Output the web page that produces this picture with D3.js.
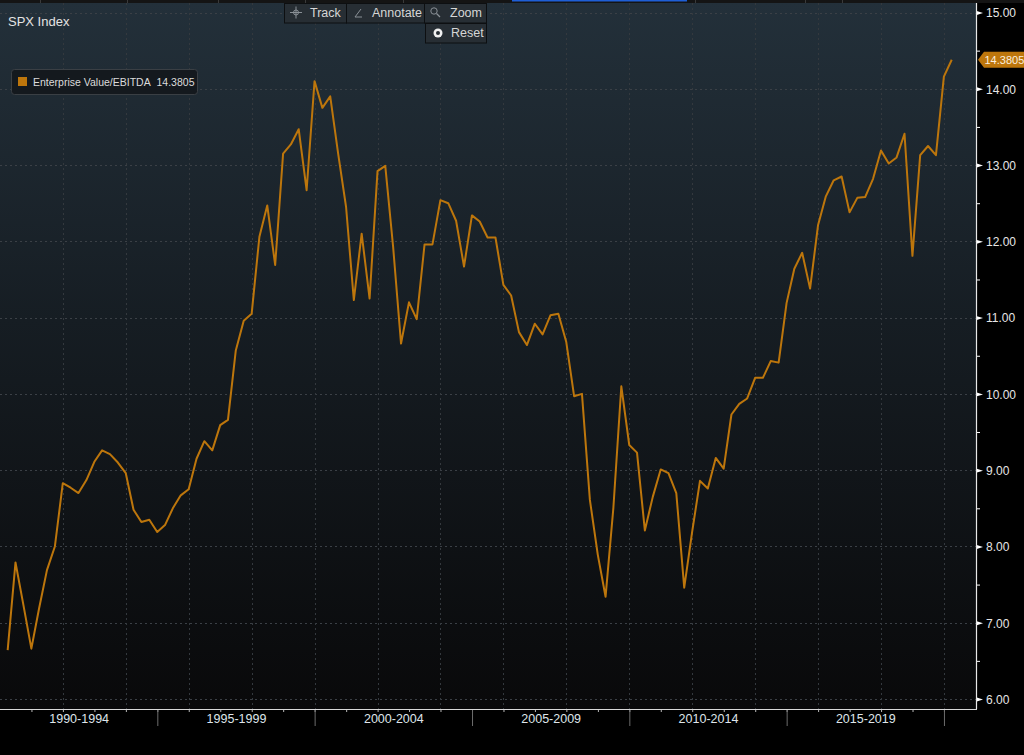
<!DOCTYPE html>
<html>
<head>
<meta charset="utf-8">
<script src="https://cdn.jsdelivr.net/npm/d3@7"></script>
<style>
  html, body { margin: 0; padding: 0; background: #000; }
  svg { display: block; }
  text { font-family: "Liberation Sans", Arial, sans-serif; }
</style>
</head>
<body>
<svg id="chart" width="1024" height="755"></svg>
<script>
// ---------------- data ----------------
const title = "SPX Index";
const seriesName = "Enterprise Value/EBITDA";
const lastValueLabel = "14.3805";
const startYear = 1990;          // first quarter: 1990 Q1, quarterly observations
const evEbitda = [
  6.64, 7.79, 7.23, 6.66, 7.19, 7.69, 8.00, 8.83, 8.77, 8.70,
  8.87, 9.11, 9.26, 9.21, 9.10, 8.96, 8.48, 8.32, 8.35, 8.19,
  8.28, 8.50, 8.67, 8.75, 9.15, 9.38, 9.26, 9.59, 9.66, 10.57,
  10.96, 11.05, 12.06, 12.47, 11.69, 13.15, 13.27, 13.47, 12.67, 14.10,
  13.75, 13.90, 13.15, 12.45, 11.23, 12.10, 11.25, 12.92, 12.99, 11.93,
  10.66, 11.20, 10.98, 11.96, 11.96, 12.54, 12.50, 12.27, 11.67, 12.34,
  12.26, 12.05, 12.05, 11.43, 11.29, 10.81, 10.64, 10.92, 10.78, 11.03,
  11.05, 10.68, 9.97, 10.00, 8.61, 7.89, 7.34, 8.51, 10.10, 9.33,
  9.23, 8.21, 8.65, 9.01, 8.96, 8.70, 7.46, 8.19, 8.86, 8.76,
  9.16, 9.02, 9.73, 9.87, 9.94, 10.21, 10.21, 10.43, 10.41, 11.19,
  11.64, 11.85, 11.38, 12.21, 12.59, 12.80, 12.85, 12.38, 12.57, 12.58,
  12.82, 13.19, 13.02, 13.10, 13.41, 11.81, 13.13, 13.25, 13.13, 14.16,
  14.3805
];
const periodLabels = ["1990-1994", "1995-1999", "2000-2004", "2005-2009", "2010-2014", "2015-2019"];
const periodStarts = [1990, 1995, 2000, 2005, 2010, 2015, 2020];
const yTicks = [6, 7, 8, 9, 10, 11, 12, 13, 14, 15];
const yMinorTicks = [6.5, 7.5, 8.5, 9.5, 10.5, 11.5, 12.5, 13.5, 14.5];
const toolbar = ["Track", "Annotate", "Zoom"];

// quarter-end dates
const dates = evEbitda.map((v, i) => new Date(startYear + Math.floor(i / 4), (i % 4) * 3 + 3, 0));
const data = evEbitda.map((v, i) => ({ date: dates[i], value: v }));

// ---------------- layout ----------------
const svg = d3.select("#chart");
const W = 1024, H = 755;
const plot = { left: 0, right: 976, top: 3, bottom: 709 };
const lineColor = "#bd760c";

const x = d3.scaleTime()
  .domain([new Date(1990, 0, 1), new Date(2021, 0, 1)])
  .range([0, 975.5]);
const y = d3.scaleLinear().domain([6, 15]).range([699, 12.5]);

// background
const defs = svg.append("defs");
const grad = defs.append("linearGradient").attr("id", "bg").attr("x1", 0).attr("y1", 0).attr("x2", 0).attr("y2", 1);
grad.append("stop").attr("offset", "0%").attr("stop-color", "#23303a");
grad.append("stop").attr("offset", "45%").attr("stop-color", "#161d23");
grad.append("stop").attr("offset", "100%").attr("stop-color", "#09090a");

svg.append("rect").attr("width", W).attr("height", H).attr("fill", "#000");
svg.append("rect")
  .attr("x", plot.left).attr("y", plot.top)
  .attr("width", plot.right - plot.left).attr("height", plot.bottom - plot.top)
  .attr("fill", "url(#bg)");

// top strip
svg.append("rect").attr("x", 0).attr("y", 0).attr("width", W).attr("height", 3).attr("fill", "#141414");
svg.append("rect").attr("x", 512).attr("y", 0).attr("width", 175).attr("height", 1.5).attr("fill", "#1f5fd6");
[40, 127, 218, 305, 403, 695, 805, 842].forEach(px =>
  svg.append("rect").attr("x", px).attr("y", 0).attr("width", 1).attr("height", 3).attr("fill", "#3a3a3a"));

// grid
const grid = svg.append("g");
grid.selectAll("line.h").data(yTicks).join("line")
  .attr("x1", plot.left).attr("x2", plot.right)
  .attr("y1", d => Math.round(y(d)) + 0.5).attr("y2", d => Math.round(y(d)) + 0.5)
  .attr("stroke", "#3b4046").attr("stroke-width", 1).attr("stroke-dasharray", "2,3");
const evenYears = d3.range(1992, 2021, 2).map(yr => new Date(yr, 0, 1));
grid.selectAll("line.v").data(evenYears).join("line")
  .attr("x1", d => Math.round(x(d)) + 0.5).attr("x2", d => Math.round(x(d)) + 0.5)
  .attr("y1", plot.top).attr("y2", plot.bottom)
  .attr("stroke", "#34393e").attr("stroke-width", 1).attr("stroke-dasharray", "2,3");

// line
const line = d3.line().x(d => x(d.date)).y(d => y(d.value)).curve(d3.curveLinear);
svg.append("path").datum(data)
  .attr("d", line)
  .attr("fill", "none")
  .attr("stroke", lineColor)
  .attr("stroke-width", 2)
  .attr("stroke-linejoin", "round");

// ---------------- right axis ----------------
const yAxisG = svg.append("g").attr("transform", `translate(${plot.right},0)`);
yAxisG.call(d3.axisRight(y).tickValues(yTicks).tickFormat(d3.format(".2f")).tickSize(0).tickPadding(10));
yAxisG.select(".domain").remove();
yAxisG.selectAll(".tick text")
  .attr("fill", "#e6e6e6").attr("font-size", "12px").attr("dy", "0.36em");
yAxisG.selectAll(".tick").append("path")
  .attr("d", "M0,-2.2 L7,0 L0,2.2 Z").attr("fill", "#ffffff");
const yMinorG = svg.append("g").attr("transform", `translate(${plot.right},0)`);
yMinorG.call(d3.axisRight(y).tickValues(yMinorTicks).tickFormat("").tickSize(4));
yMinorG.select(".domain").remove();
yMinorG.selectAll(".tick line").attr("stroke", "#ffffff");
svg.append("line")
  .attr("x1", plot.right + 0.5).attr("x2", plot.right + 0.5)
  .attr("y1", plot.top).attr("y2", plot.bottom)
  .attr("stroke", "#e8e8e8").attr("stroke-width", 1.2);

// last-value tag
const lastY = y(evEbitda[evEbitda.length - 1]);
svg.append("path")
  .attr("d", `M${plot.right + 2},${lastY} L${plot.right + 8},${lastY - 8} L${W + 5},${lastY - 8} L${W + 5},${lastY + 8} L${plot.right + 8},${lastY + 8} Z`)
  .attr("fill", lineColor);
svg.append("text")
  .attr("x", plot.right + 8.5).attr("y", lastY).attr("dy", "0.36em")
  .attr("fill", "#fbeede").attr("font-size", "11px")
  .text(lastValueLabel);

// ---------------- bottom axis ----------------
const yearTicks = d3.range(1991, 2021).map(yr => new Date(yr, 0, 1));
const xMinorG = svg.append("g").attr("transform", `translate(0,${plot.bottom})`);
xMinorG.call(d3.axisBottom(x).tickValues(yearTicks).tickFormat("").tickSize(3));
xMinorG.select(".domain").remove();
xMinorG.selectAll(".tick line").attr("stroke", "#b8b8b8");

const majorDates = periodStarts.slice(1).map(yr => new Date(yr, 0, 1));
const xMajorG = svg.append("g").attr("transform", `translate(0,${plot.bottom})`);
xMajorG.call(d3.axisBottom(x).tickValues(majorDates).tickFormat("").tickSize(17));
xMajorG.select(".domain").remove();
xMajorG.selectAll(".tick line").attr("stroke", "#6c6c6c");

const midDates = periodLabels.map((lab, i) =>
  new Date((new Date(periodStarts[i], 0, 1).getTime() + new Date(periodStarts[i + 1], 0, 1).getTime()) / 2));
const xLabG = svg.append("g").attr("transform", `translate(0,${plot.bottom})`);
xLabG.call(d3.axisBottom(x).tickValues(midDates).tickFormat((d, i) => periodLabels[i]).tickSize(0).tickPadding(5));
xLabG.select(".domain").remove();
xLabG.selectAll(".tick text").attr("fill", "#dfe5ea").attr("font-size", "12.5px");

svg.append("line")
  .attr("x1", plot.left).attr("x2", plot.right + 1)
  .attr("y1", plot.bottom + 0.5).attr("y2", plot.bottom + 0.5)
  .attr("stroke", "#d8d8d8").attr("stroke-width", 1.2);

// ---------------- title & legend ----------------
svg.append("text").attr("x", 8).attr("y", 26)
  .attr("fill", "#e4e4e4").attr("font-size", "13px").text(title);

const leg = svg.append("g");
leg.append("rect").attr("x", 11.5).attr("y", 69.5).attr("width", 186).attr("height", 25).attr("rx", 3)
  .attr("fill", "#14191e").attr("stroke", "#3a3f44");
leg.append("rect").attr("x", 18).attr("y", 77).attr("width", 9).attr("height", 9).attr("fill", lineColor);
leg.append("text").attr("x", 33).attr("y", 86)
  .attr("fill", "#dcdcdc").attr("font-size", "10.5px")
  .text(seriesName + "\u00a0\u00a0" + lastValueLabel);

// ---------------- toolbar ----------------
const tb = svg.append("g");
const btns = [
  { label: toolbar[0], x: 284, w: 62, y: 3 },
  { label: toolbar[1], x: 346, w: 78, y: 3 },
  { label: toolbar[2], x: 424, w: 62, y: 3 },
  { label: "Reset", x: 425, w: 61, y: 23 }
];
btns.forEach(b => {
  tb.append("rect").attr("x", b.x + 0.5).attr("y", b.y + 0.5).attr("width", b.w).attr("height", 19.5)
    .attr("fill", "#272e34").attr("stroke", "#0d0f11");
  tb.append("text").attr("x", b.x + 26).attr("y", b.y + 14)
    .attr("fill", "#d6d6d6").attr("font-size", "12.5px").text(b.label);
});
// icons
tb.append("path").attr("d", "M290,12.5 H302 M296,6.5 V18.5").attr("stroke", "#8a9096").attr("stroke-width", 1);
tb.append("circle").attr("cx", 296).attr("cy", 12.5).attr("r", 2.5).attr("fill", "none").attr("stroke", "#8a9096");
tb.append("path").attr("d", "M355,17 L361,9 M355,17 H362").attr("stroke", "#8a9096").attr("stroke-width", 1).attr("fill", "none");
tb.append("circle").attr("cx", 434).attr("cy", 11).attr("r", 3.2).attr("fill", "none").attr("stroke", "#8a9096");
tb.append("path").attr("d", "M436.5,13.5 L440,17").attr("stroke", "#8a9096").attr("stroke-width", 1.2);
tb.append("circle").attr("cx", 438).attr("cy", 33).attr("r", 4.5).attr("fill", "#f0f0f0");
tb.append("circle").attr("cx", 438).attr("cy", 33).attr("r", 2).attr("fill", "#272e34");
</script>
</body>
</html>
